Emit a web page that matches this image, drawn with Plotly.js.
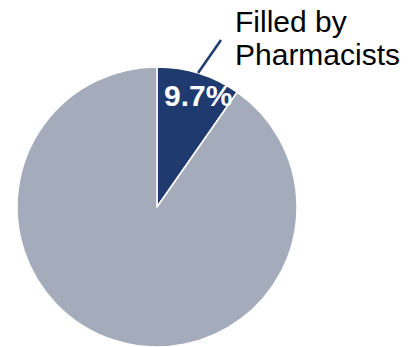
<!DOCTYPE html>
<html><head><meta charset="utf-8">
<script src="https://cdn.plot.ly/plotly-3.0.1.min.js"></script>
<style>html,body{margin:0;padding:0;background:#fff}#c{width:412px;height:347px}</style>
</head><body><div id="c"></div>
<script>
var labels = ["Filled by Pharmacists", "Other"];
var values = [9.7, 90.3];
var colors = ["#1f3a6f", "#a4acbc"];
var pctText = values[0].toFixed(1) + "%";
var calloutLines = ["Filled by", "Pharmacists"];

var W = 412, H = 347;
var data = [{
  type: "pie",
  labels: labels,
  values: values,
  sort: false,
  direction: "clockwise",
  rotation: 0,
  textinfo: "none",
  hoverinfo: "none",
  marker: {colors: colors, line: {color: "#ffffff", width: 1.5}},
  domain: {x: [17/W, 297/W], y: [0, 280/H]}
}];
var fam = "Liberation Sans, Arial, sans-serif";
var layout = {
  width: W, height: H,
  margin: {l: 0, r: 0, t: 0, b: 0},
  showlegend: false,
  paper_bgcolor: "#ffffff",
  font: {family: fam},
  shapes: [{
    type: "line", xref: "paper", yref: "paper",
    x0: 198/W, y0: 1 - 73/H, x1: 221/W, y1: 1 - 40/H,
    line: {color: "#1f3a6f", width: 2.5}
  }],
  annotations: [
    {text: pctText, xref: "paper", yref: "paper", x: 198/W, y: 1 - 96/H,
     showarrow: false, xanchor: "center", yanchor: "middle",
     font: {color: "#ffffff", size: 30, family: fam, weight: "bold"}},
    {text: calloutLines[0], xref: "paper", yref: "paper", x: 233/W, y: 1 - 3/H,
     showarrow: false, xanchor: "left", yanchor: "top", align: "left",
     font: {color: "#000000", size: 30, family: fam}},
    {text: calloutLines[1], xref: "paper", yref: "paper", x: 233/W, y: 1 - 36/H,
     showarrow: false, xanchor: "left", yanchor: "top", align: "left",
     font: {color: "#000000", size: 30, family: fam}}
  ]
};
Plotly.newPlot("c", data, layout, {staticPlot: true, displayModeBar: false});
</script></body></html>
